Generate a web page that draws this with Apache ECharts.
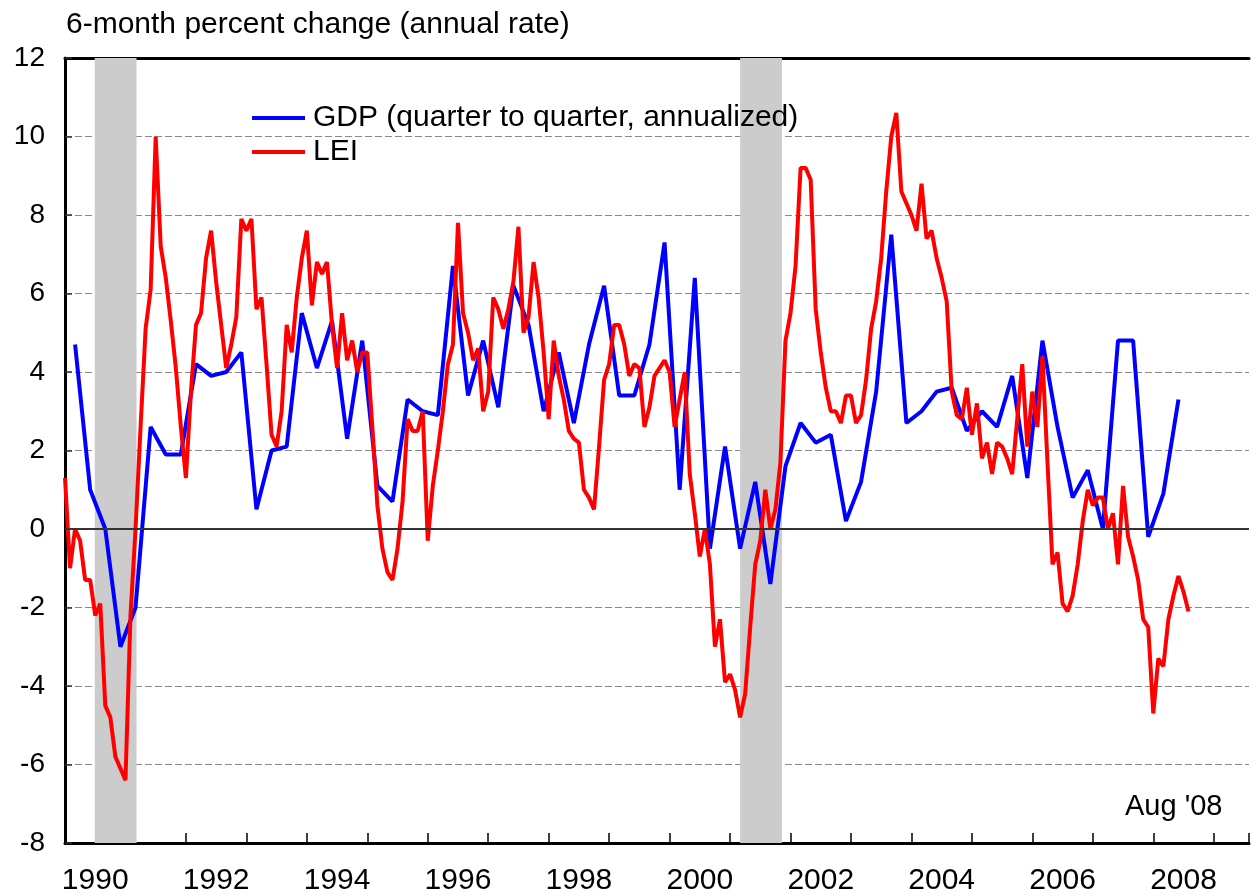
<!DOCTYPE html>
<html>
<head>
<meta charset="utf-8">
<script src="https://cdn.jsdelivr.net/npm/echarts@6/dist/echarts.min.js"></script>
<style>
  html, body { margin: 0; padding: 0; background: #fff; }
  #chart { width: 1252px; height: 896px; }
</style>
</head>
<body>
<div id="chart"></div>
<script>
/* x axis runs in months counted from Jan 1990 (= 0) */
const firstYear = 1990
const yTicks = { min: -8, max: 12, step: 2 }

/* recessions, as month positions (Jul 1990 - Mar 1991, Mar 2001 - Nov 2001) */
const recessions = [[5.9, 14.2], [134.0, 142.3]]

/* GDP, quarter to quarter annualized, 1990Q1 .. 2008Q2 */
const gdpValues = [
  4.7, 1.0, 0.0, -3.0,
  -2.0, 2.6, 1.9, 1.9,
  4.2, 3.9, 4.0, 4.5,
  0.5, 2.0, 2.1, 5.5,
  4.1, 5.3, 2.3, 4.8,
  1.1, 0.7, 3.3, 3.0,
  2.9, 6.7, 3.4, 4.8,
  3.1, 6.2, 5.2, 3.0,
  4.5, 2.7, 4.7, 6.2,
  3.4, 3.4, 4.7, 7.3,
  1.0, 6.4, -0.5, 2.1,
  -0.5, 1.2, -1.4, 1.6,
  2.7, 2.2, 2.4, 0.2,
  1.2, 3.5, 7.5, 2.7,
  3.0, 3.5, 3.6, 2.5,
  3.0, 2.6, 3.9, 1.3,
  4.8, 2.6, 0.8, 1.5,
  0.0, 4.8, 4.8, -0.2,
  0.9, 3.3
]

/* LEI, 6-month percent change (annual rate), Jan 1990 .. Aug 2008 */
const leiValues = [
  1.3, -1.0, 0.0, -0.3, -1.3, -1.3, -2.2, -1.9, -4.5, -4.8, -5.8, -6.1,   // 1990
  -6.4, -2.2, 0.0, 2.6, 5.1, 6.1, 10.0, 7.2, 6.4, 5.3, 4.1, 2.6,          // 1991
  1.3, 3.5, 5.2, 5.5, 6.9, 7.6, 6.3, 5.2, 4.1, 4.7, 5.4, 7.9,             // 1992
  7.6, 7.9, 5.6, 5.9, 4.2, 2.4, 2.1, 3.0, 5.2, 4.5, 5.9, 6.9,             // 1993
  7.6, 5.7, 6.8, 6.5, 6.8, 5.2, 4.1, 5.5, 4.3, 4.8, 4.0, 4.5,             // 1994
  4.5, 2.6, 0.6, -0.5, -1.1, -1.3, -0.5, 0.7, 2.8, 2.5, 2.5, 3.0,         // 1995
  -0.3, 1.1, 2.0, 3.0, 4.2, 4.7, 7.8, 5.5, 5.0, 4.3, 4.6, 3.0,            // 1996
  3.5, 5.9, 5.6, 5.1, 5.6, 6.3, 7.7, 5.0, 5.4, 6.8, 5.9, 4.5,             // 1997
  2.8, 4.8, 3.9, 3.3, 2.5, 2.3, 2.2, 1.0, 0.8, 0.5, 2.1, 3.8,             // 1998
  4.2, 5.2, 5.2, 4.7, 3.9, 4.2, 4.1, 2.6, 3.1, 3.9, 4.1, 4.3,             // 1999
  4.0, 2.6, 3.3, 4.0, 1.4, 0.4, -0.7, 0.0, -0.9, -3.0, -2.3, -3.9,        // 2000
  -3.7, -4.1, -4.8, -4.2, -2.5, -0.9, -0.3, 1.0, 0.0, 0.5, 1.7, 4.8,      // 2001
  5.5, 6.7, 9.2, 9.2, 8.9, 5.6, 4.5, 3.6, 3.0, 3.0, 2.7, 3.4,             // 2002
  3.4, 2.7, 2.9, 3.8, 5.1, 5.8, 6.9, 8.6, 10.0, 10.6, 8.6, 8.3,           // 2003
  8.0, 7.6, 8.8, 7.4, 7.6, 6.9, 6.4, 5.8, 3.5, 2.9, 2.8, 3.6,             // 2004
  2.4, 3.2, 1.8, 2.2, 1.4, 2.2, 2.1, 1.8, 1.4, 2.8, 4.2, 2.1,             // 2005
  3.5, 2.6, 4.4, 1.7, -0.9, -0.6, -1.9, -2.1, -1.7, -0.9, 0.2, 1.0,       // 2006
  0.6, 0.8, 0.8, 0.0, 0.4, -0.9, 1.1, -0.2, -0.7, -1.3, -2.3, -2.5,       // 2007
  -4.7, -3.3, -3.5, -2.3, -1.7, -1.2, -1.6, -2.1                          // 2008
]

const gdpName = 'GDP (quarter to quarter, annualized)'
const leiName = 'LEI'

// quarter i is plotted at its last month, month i at itself
const gdpData = gdpValues.map((v, i) => [i * 3 + 2, v])
const leiData = leiValues.map((v, i) => [i, v])

const FONT = 'Liberation Sans'
const chart = echarts.init(document.getElementById('chart'))

chart.setOption({
  animation: false,
  backgroundColor: '#fff',
  title: {
    text: '6-month percent change (annual rate)',
    left: 61,
    top: 5,
    textStyle: { fontFamily: FONT, fontSize: 30, fontWeight: 'normal', color: '#000' }
  },
  legend: {
    data: [gdpName, leiName],
    orient: 'vertical',
    left: 247,
    top: 98,
    icon: 'rect',
    itemWidth: 53,
    itemHeight: 4,
    itemGap: 4,
    textStyle: { fontFamily: FONT, fontSize: 30, color: '#000', padding: [0, 0, 0, 3] }
  },
  grid: { left: 65, right: 0, top: 58, bottom: 48 },
  xAxis: [
    {
      // year ticks
      type: 'value', position: 'bottom', min: 0, max: 235, interval: 12,
      axisLine: { onZero: false, lineStyle: { color: '#000', width: 3 } },
      axisTick: { inside: true, length: 10, lineStyle: { color: '#000', width: 1.5 } },
      axisLabel: { show: false },
      splitLine: { show: false }
    },
    {
      // year labels in the middle of the year
      type: 'value', position: 'bottom', min: 0, max: 235, interval: 6,
      axisLine: { show: false, onZero: false },
      axisTick: { show: false },
      splitLine: { show: false },
      axisLabel: {
        fontFamily: FONT, fontSize: 30, color: '#000', margin: 23,
        formatter: v => (v % 24 === 6 ? String(firstYear + (v - 6) / 12) : '')
      }
    },
    {
      // top frame
      type: 'value', position: 'top', min: 0, max: 235,
      axisLine: { onZero: false, lineStyle: { color: '#000', width: 3 } },
      axisTick: { show: false },
      axisLabel: { show: false },
      splitLine: { show: false }
    }
  ],
  yAxis: {
    type: 'value',
    min: yTicks.min,
    max: yTicks.max,
    interval: yTicks.step,
    axisLine: { show: true, onZero: false, lineStyle: { color: '#000', width: 3 } },
    axisTick: { show: true, inside: true, length: 7, lineStyle: { color: '#333', width: 1.5 } },
    axisLabel: { fontFamily: FONT, fontSize: 28, color: '#000', margin: 20 },
    splitLine: { lineStyle: { color: '#8a8a8a', type: [7, 3], width: 1.2 } }
  },
  series: [
    {
      // shading + zero line
      name: 'helper',
      type: 'line',
      data: [],
      z: 1,
      silent: true,
      markArea: {
        silent: true,
        itemStyle: { color: '#cccccc' },
        data: recessions.map(r => [{ xAxis: r[0] }, { xAxis: r[1] }])
      },
      markLine: {
        silent: true,
        symbol: ['none', 'none'],
        label: { show: false },
        lineStyle: { color: '#333', type: 'solid', width: 2 },
        data: [{ yAxis: 0 }]
      }
    },
    {
      name: gdpName,
      type: 'line',
      data: gdpData,
      z: 3,
      symbol: 'none',
      color: '#0000ff',
      lineStyle: { color: '#0000ff', width: 4 }
    },
    {
      name: leiName,
      type: 'line',
      data: leiData,
      z: 4,
      symbol: 'none',
      color: '#ff0000',
      lineStyle: { color: '#ff0000', width: 4 }
    }
  ],
  graphic: [
    {
      type: 'text',
      left: 1125,
      top: 792,
      style: { text: "Aug '08", font: '29px ' + FONT, fill: '#000' }
    }
  ]
})
</script>
</body>
</html>
